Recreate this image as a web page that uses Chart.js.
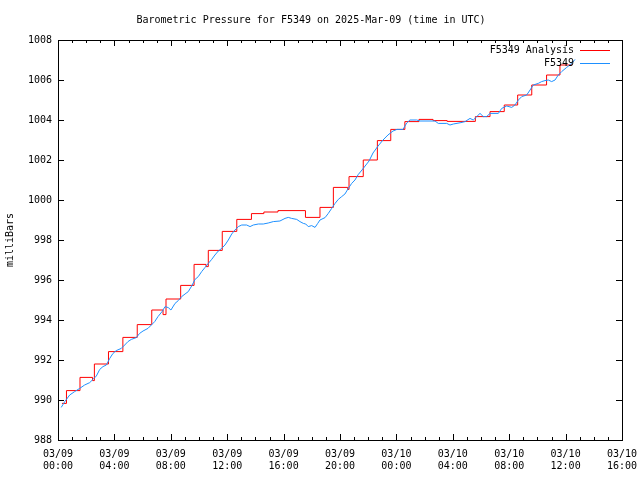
<!DOCTYPE html>
<html>
<head>
<title>Barometric Pressure for F5349</title>
<script src="https://cdn.jsdelivr.net/npm/chart.js"></script>
<style>
    body { margin: 0; background: #fff; }
    canvas { display: block; }
</style>
</head>
<body>
<canvas id="pressChart" width="640" height="480"></canvas>
<script>
// hours since 03/09 00:00 UTC, pressure in mb
var analysisHours = [0.28, 0.6, 1.56, 2.45, 2.58, 3.58, 4.6, 5.62, 6.65, 7.45,
    7.66, 8.7, 9.65, 10.5, 10.66, 11.65, 12.68, 13.72, 14.6, 15.6,
    17.55, 18.58, 19.53, 20.55, 20.64, 21.65, 22.65, 23.6, 24.6, 25.6,
    26.6, 27.6, 29.6, 30.64, 31.65, 32.6, 33.6, 34.65, 35.6, 36.45];
var analysisMb = [989.83, 990.47, 991.13, 990.97, 991.8, 992.42, 993.13, 993.77, 994.5, 994.27,
    995.05, 995.73, 996.78, 996.67, 997.48, 998.43, 999.03, 999.32, 999.4, 999.47,
    999.13, 999.63, 1000.63, 1000.53, 1001.17, 1002.0, 1002.97, 1003.53, 1003.92, 1004.03,
    1003.97, 1003.93, 1004.17, 1004.42, 1004.75, 1005.25, 1005.75, 1006.25, 1006.75, 1006.75];

var stationHours = [0.23, 0.48, 0.83, 1.18, 1.54, 1.89, 2.25, 2.48, 2.72, 2.96,
    3.19, 3.43, 3.67, 3.90, 4.13, 4.49, 4.73, 4.96, 5.20, 5.55,
    5.79, 6.03, 6.38, 6.62, 6.86, 7.09, 7.38, 7.59, 7.82, 8.01,
    8.30, 8.53, 8.77, 9.01, 9.24, 9.48, 9.72, 9.95, 10.19, 10.43,
    10.66, 10.90, 11.13, 11.37, 11.61, 11.84, 12.08, 12.32, 12.55, 12.79,
    13.03, 13.38, 13.62, 13.85, 14.21, 14.56, 14.91, 15.27, 15.74, 16.10,
    16.33, 16.57, 16.93, 17.16, 17.40, 17.57, 17.75, 17.99, 18.23, 18.42,
    18.58, 18.94, 19.17, 19.41, 19.65, 19.88, 20.12, 20.35, 20.59, 20.83,
    21.06, 21.30, 21.56, 22.06, 22.34, 22.70, 23.05, 23.40, 23.76, 24.04,
    24.47, 24.73, 24.96, 25.44, 25.67, 26.74, 26.97, 27.57, 27.80, 28.04,
    28.58, 28.87, 29.22, 29.45, 29.70, 29.93, 30.16, 30.40, 30.64, 31.23,
    31.47, 31.82, 32.18, 32.41, 32.65, 32.89, 33.24, 33.48, 33.71, 34.06,
    34.30, 34.54, 34.77, 35.01, 35.25, 35.48, 35.72, 36.08, 36.43, 36.67];
var stationMb = [989.63, 989.92, 990.25, 990.42, 990.58, 990.75, 990.87, 991.03, 991.2, 991.53,
    991.67, 991.75, 992.08, 992.33, 992.47, 992.58, 992.75, 992.92, 993.03, 993.12,
    993.33, 993.45, 993.58, 993.75, 993.92, 994.17, 994.42, 994.67, 994.62, 994.5,
    994.83, 994.97, 995.17, 995.3, 995.42, 995.7, 996.03, 996.17, 996.42, 996.63,
    996.83, 997.03, 997.25, 997.45, 997.58, 997.75, 998.0, 998.3, 998.5, 998.67,
    998.75, 998.75, 998.67, 998.75, 998.8, 998.8, 998.85, 998.92, 998.95, 999.08,
    999.13, 999.08, 999.03, 998.92, 998.83, 998.8, 998.67, 998.72, 998.63, 998.83,
    999.0, 999.12, 999.33, 999.58, 999.83, 1000.03, 1000.17, 1000.3, 1000.58, 1000.83,
    1001.0, 1001.28, 1001.5, 1001.95, 1002.35, 1002.7, 1003.0, 1003.25, 1003.45, 1003.53,
    1003.53, 1003.85, 1004.0, 1004.0, 1003.95, 1003.95, 1003.83, 1003.83, 1003.75, 1003.8,
    1003.87, 1003.92, 1004.08, 1004.0, 1004.17, 1004.33, 1004.17, 1004.17, 1004.33, 1004.33,
    1004.58, 1004.7, 1004.63, 1004.75, 1005.0, 1005.17, 1005.25, 1005.5, 1005.75, 1005.83,
    1005.92, 1005.97, 1006.0, 1005.92, 1006.0, 1006.25, 1006.42, 1006.63, 1006.83, 1007.03];

var tickDays = ['03/09', '03/09', '03/09', '03/09', '03/09', '03/09', '03/10', '03/10', '03/10', '03/10', '03/10'];
var tickTimes = ['00:00', '04:00', '08:00', '12:00', '16:00', '20:00', '00:00', '04:00', '08:00', '12:00', '16:00'];

var FONT = { family: '"DejaVu Sans Mono", monospace', size: 10, lineHeight: 1.2 };

function toPoints(xs, ys) {
    var pts = [];
    for (var i = 0; i < xs.length; i++) pts.push({ x: xs[i], y: ys[i] });
    return pts;
}

// gnuplot style frame, inward ticks and inside legend
var framePlugin = {
    id: 'frame',
    afterDatasetsDraw: function(chart) {
        var ctx = chart.ctx, a = chart.chartArea;
        var xs = chart.scales.x, ys = chart.scales.y;
        ctx.save();
        ctx.strokeStyle = '#000';
        ctx.lineWidth = 1;
        ctx.strokeRect(a.left + 0.5, a.top + 0.5, a.right - a.left, a.bottom - a.top);
        ctx.beginPath();
        for (var h = xs.min; h <= xs.max; h++) {
            var px = Math.round(xs.getPixelForValue(h)) + 0.5;
            var len = (h % 4 === 0) ? 6 : 3;
            ctx.moveTo(px, a.bottom); ctx.lineTo(px, a.bottom - len);
            ctx.moveTo(px, a.top); ctx.lineTo(px, a.top + len);
        }
        for (var v = ys.min; v <= ys.max; v += 2) {
            var py = Math.round(ys.getPixelForValue(v)) + 0.5;
            ctx.moveTo(a.left, py); ctx.lineTo(a.left + 6, py);
            ctx.moveTo(a.right, py); ctx.lineTo(a.right - 6, py);
        }
        ctx.stroke();

        // legend
        ctx.font = '10px "DejaVu Sans Mono", monospace';
        ctx.textAlign = 'right';
        ctx.textBaseline = 'middle';
        var rows = [chart.data.datasets[0], chart.data.datasets[1]];
        for (var i = 0; i < rows.length; i++) {
            var y = a.top + 10 + i * 13;
            ctx.fillStyle = '#000';
            ctx.fillText(rows[i].label, a.right - 48, y);
            ctx.strokeStyle = rows[i].borderColor;
            ctx.beginPath();
            ctx.moveTo(a.right - 42, y + 0.5);
            ctx.lineTo(a.right - 12, y + 0.5);
            ctx.stroke();
        }
        ctx.restore();
    }
};

new Chart(document.getElementById('pressChart').getContext('2d'), {
    type: 'line',
    data: {
        datasets: [{
            label: 'F5349 Analysis',
            data: toPoints(analysisHours, analysisMb),
            borderColor: '#ff0000',
            borderWidth: 1,
            pointRadius: 0,
            stepped: true,
            order: 1
        }, {
            label: 'F5349',
            data: toPoints(stationHours, stationMb),
            borderColor: '#1e90ff',
            borderWidth: 1,
            pointRadius: 0,
            tension: 0,
            order: 0
        }]
    },
    options: {
        responsive: false,
        animation: false,
        layout: { padding: { left: 0, right: 18, top: 0, bottom: 0 } },
        plugins: {
            legend: { display: false },
            tooltip: { enabled: false },
            title: {
                display: true,
                text: 'Barometric Pressure for F5349 on 2025-Mar-09 (time in UTC)',
                color: '#000',
                font: { family: FONT.family, size: 10, weight: 'normal', lineHeight: 1.2 },
                padding: { top: 14, bottom: 14 }
            }
        },
        scales: {
            x: {
                type: 'linear',
                min: 0,
                max: 40,
                afterFit: function(s) {
                    s.height = 40;
                    s.paddingLeft = 0;
                    s.paddingRight = 0;
                },
                grid: { display: false, drawTicks: false },
                border: { display: false },
                ticks: {
                    stepSize: 4,
                    maxRotation: 0,
                    autoSkip: false,
                    padding: 8,
                    color: '#000',
                    font: FONT,
                    callback: function(value) {
                        var i = Math.round(value / 4);
                        return [tickDays[i], tickTimes[i]];
                    }
                }
            },
            y: {
                min: 988,
                max: 1008,
                afterFit: function(s) {
                    s.width = 58;
                    s.paddingTop = 0;
                    s.paddingBottom = 0;
                },
                grid: { display: false, drawTicks: false },
                border: { display: false },
                title: {
                    display: true,
                    text: 'milliBars',
                    color: '#000',
                    font: FONT,
                    padding: { top: 4, bottom: 0 }
                },
                ticks: {
                    stepSize: 2,
                    padding: 6,
                    color: '#000',
                    font: FONT,
                    callback: function(value) { return String(value); }
                }
            }
        }
    },
    plugins: [framePlugin]
});
</script>
</body>
</html>
